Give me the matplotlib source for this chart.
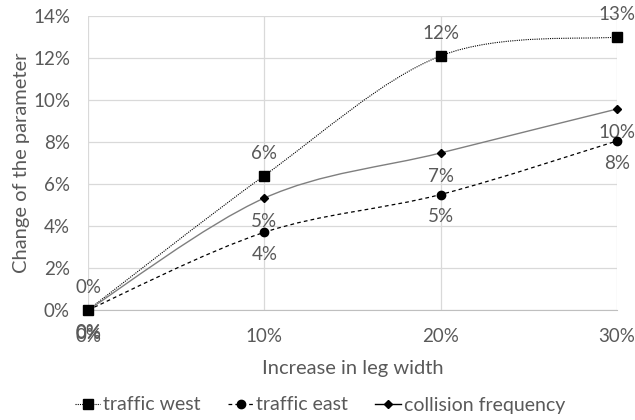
import matplotlib
matplotlib.use("Agg")
import matplotlib.pyplot as plt
from matplotlib.path import Path
from matplotlib.patches import PathPatch
from matplotlib.lines import Line2D
import numpy as np

plt.rcParams['font.family'] = ['Lato', 'DejaVu Sans']

categories = ["0%", "10%", "20%", "30%"]
traffic_west = [0.0, 6.4, 12.1, 13.0]
traffic_east = [0.0, 3.7, 5.5, 8.05]
collision_freq = [0.0, 5.33, 7.48, 9.57]
west_labels = ["0%", "6%", "12%", "13%"]
east_labels = ["0%", "4%", "5%", "8%"]
collision_labels = ["0%", "5%", "7%", "10%"]
y_ticks = [0, 2, 4, 6, 8, 10, 12, 14]

TEXT = "#595959"
GRID = "#d9d9d9"


def smooth_path(xs, ys):
    """Cubic Bezier through the points (Catmull-Rom style control points)."""
    pts = np.column_stack([xs, ys]).astype(float)
    n = len(pts)
    verts = [pts[0]]
    codes = [Path.MOVETO]
    for i in range(n - 1):
        p0 = pts[i - 1] if i > 0 else pts[i]
        p1 = pts[i]
        p2 = pts[i + 1]
        p3 = pts[i + 2] if i + 2 < n else pts[i + 1]
        c1 = p1 + (p2 - p0) / 6.0
        c2 = p2 - (p3 - p1) / 6.0
        verts += [c1, c2, p2]
        codes += [Path.CURVE4] * 3
    return Path(verts, codes)


fig = plt.figure(figsize=(6.35, 4.2), dpi=100)
ax = fig.add_axes([88 / 635, 1 - 310 / 420, (617 - 88) / 635, (310 - 16) / 420])

x = np.arange(len(categories))
ax.set_xlim(0, len(categories) - 1)
ax.set_ylim(0, 14)

series = [
    (traffic_west, dict(color="black", lw=0.8, ls=(0, (1, 1))), "s", 7, "traffic west"),
    (traffic_east, dict(color="black", lw=0.9, ls=(0, (3, 2.5))), "o", 6, "traffic east"),
    (collision_freq, dict(color="#7f7f7f", lw=1.0, ls="-"), "D", 4.5, "collision frequency"),
]

handles = []
for vals, style, marker, ms, name in series:
    patch = PathPatch(smooth_path(x, vals), facecolor="none", edgecolor=style["color"],
                      lw=style["lw"], linestyle=style["ls"], zorder=3)
    ax.add_patch(patch)
    ax.plot(x, vals, ls="none", marker=marker, ms=ms, color="black", zorder=4, clip_on=False)
    handles.append(Line2D([], [], color="black", lw=style["lw"], ls=style["ls"],
                          marker=marker, ms=ms, markerfacecolor="black"))

LBL = 13.5
for xi, v, lab in zip(x, traffic_west, west_labels):
    ax.annotate(lab, (xi, v), xytext=(0, 16), textcoords="offset points",
                ha="center", va="center", fontsize=LBL, color=TEXT, annotation_clip=False)
for xi, v, lab in zip(x, traffic_east, east_labels):
    ax.annotate(lab, (xi, v), xytext=(0, -16), textcoords="offset points",
                ha="center", va="center", fontsize=LBL, color=TEXT, annotation_clip=False)
for xi, v, lab in zip(x, collision_freq, collision_labels):
    ax.annotate(lab, (xi, v), xytext=(0, -17), textcoords="offset points",
                ha="center", va="center", fontsize=LBL, color=TEXT, annotation_clip=False)

ax.set_xticks(x)
ax.set_xticklabels(categories)
ax.set_yticks(y_ticks)
ax.set_yticklabels([f"{t}%" for t in y_ticks])
ax.tick_params(length=0, labelsize=13.5, labelcolor=TEXT)
ax.tick_params(axis="x", pad=13)
ax.tick_params(axis="y", pad=13)
ax.grid(True, color=GRID, lw=0.9)
ax.set_axisbelow(True)
for s in ["top", "right", "left"]:
    ax.spines[s].set_visible(False)
ax.spines["bottom"].set_color("#bfbfbf")

ax.set_xlabel("Increase in leg width", fontsize=14.5, color=TEXT, labelpad=11)
ax.set_ylabel("Change of the parameter", fontsize=14.5, color=TEXT, labelpad=2)

fig.legend(handles, [s[4] for s in series], loc="center", bbox_to_anchor=(320 / 635, 1 - 405 / 420),
           ncol=3, frameon=False, fontsize=14, labelcolor=TEXT, handlelength=1.3,
           handletextpad=0.15, columnspacing=1.4, borderpad=0)

fig.savefig("out.png", dpi=100)
